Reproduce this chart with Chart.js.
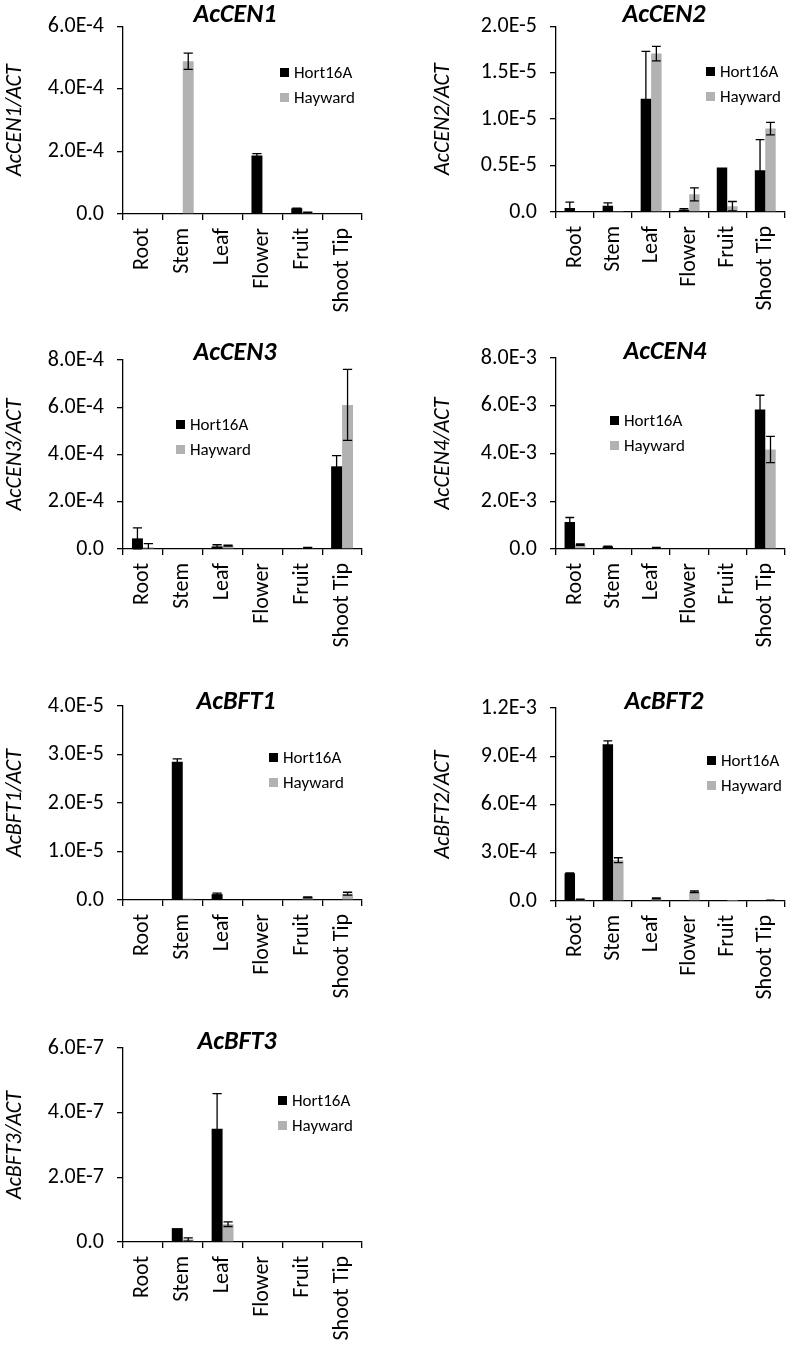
<!DOCTYPE html>
<html>
<head>
<meta charset="utf-8">
<script src="https://cdn.jsdelivr.net/npm/chart.js@4.4.1/dist/chart.umd.min.js"></script>
<style>
    body { margin: 0; background: #fff; }
    #page { position: relative; width: 800px; height: 1346px; background: #fff; color: #000; font-family: Carlito, "Open Sans", sans-serif; }
    canvas { position: absolute; }
    .title { position: absolute; transform: translate(-50%, -50%); font: italic bold 26px Carlito, "Open Sans", sans-serif; white-space: nowrap; }
    .legend { position: absolute; font: 17px Carlito, "Open Sans", sans-serif; }
    .legend div { display: flex; align-items: center; height: 25px; white-space: nowrap; }
    .legend i { display: inline-block; width: 9px; height: 9px; margin-right: 5px; }
</style>
</head>
<body>
<div id="page"></div>
<script>
const categories = ["Root", "Stem", "Leaf", "Flower", "Fruit", "Shoot Tip"];
const seriesNames = ["Hort16A", "Hayward"];

// AcCEN1
const cen1Hort = [0, 0, 0, 1.87e-4, 1.8e-5, 0];
const cen1HortErr = [0, 0, 0, 6e-6, 1e-6, 0];
const cen1Hay = [0, 4.88e-4, 0, 0, 5e-6, 0];
const cen1HayErr = [0, 2.6e-5, 0, 0, 1e-6, 0];
const cen1Ticks = ["0.0", "2.0E-4", "4.0E-4", "6.0E-4"];
const cen1Max = 6e-4;

// AcCEN2
const cen2Hort = [0.42e-6, 0.67e-6, 1.22e-5, 0.25e-6, 4.8e-6, 4.5e-6];
const cen2HortErr = [0.64e-6, 0.32e-6, 0.51e-5, 0.1e-6, 0, 3.3e-6];
const cen2Hay = [0, 0.12e-6, 1.705e-5, 1.9e-6, 0.63e-6, 8.98e-6];
const cen2HayErr = [0, 0, 0.78e-6, 0.7e-6, 0.5e-6, 0.67e-6];
const cen2Ticks = ["0.0", "0.5E-5", "1.0E-5", "1.5E-5", "2.0E-5"];
const cen2Max = 2e-5;

// AcCEN3
const cen3Hort = [0.45e-4, 0.02e-4, 0.11e-4, 0, 0, 3.5e-4];
const cen3HortErr = [0.44e-4, 0, 0.07e-4, 0, 0, 0.45e-4];
const cen3Hay = [0.07e-4, 0, 0.14e-4, 0, 0.05e-4, 6.1e-4];
const cen3HayErr = [0.16e-4, 0, 0.02e-4, 0, 0.02e-4, 1.5e-4];
const cen3Ticks = ["0.0", "2.0E-4", "4.0E-4", "6.0E-4", "8.0E-4"];
const cen3Max = 8e-4;

// AcCEN4
const cen4Hort = [1.13e-3, 0.1e-3, 0, 0, 0, 5.84e-3];
const cen4HortErr = [0.19e-3, 0.02e-3, 0, 0, 0, 0.6e-3];
const cen4Hay = [0.18e-3, 0.03e-3, 0.05e-3, 0, 0, 4.17e-3];
const cen4HayErr = [0.03e-3, 0, 0.02e-3, 0, 0, 0.55e-3];
const cen4Ticks = ["0.0", "2.0E-3", "4.0E-3", "6.0E-3", "8.0E-3"];
const cen4Max = 8e-3;

// AcBFT1
const bft1Hort = [0, 2.85e-5, 1.2e-6, 0, 0, 0];
const bft1HortErr = [0, 0.6e-6, 0.2e-6, 0, 0, 0];
const bft1Hay = [0, 0.3e-6, 0, 0, 0.55e-6, 1.3e-6];
const bft1HayErr = [0, 0, 0, 0, 0.1e-6, 0.3e-6];
const bft1Ticks = ["0.0", "1.0E-5", "2.0E-5", "3.0E-5", "4.0E-5"];
const bft1Max = 4e-5;

// AcBFT2
const bft2Hort = [1.72e-4, 9.74e-4, 0.04e-4, 0.05e-4, 0.02e-4, 0];
const bft2HortErr = [0.03e-4, 0.22e-4, 0, 0, 0, 0];
const bft2Hay = [0.1e-4, 2.54e-4, 0.17e-4, 0.58e-4, 0.02e-4, 0.05e-4];
const bft2HayErr = [0.02e-4, 0.15e-4, 0.03e-4, 0.05e-4, 0, 0.01e-4];
const bft2Ticks = ["0.0", "3.0E-4", "6.0E-4", "9.0E-4", "1.2E-3"];
const bft2Max = 1.2e-3;

// AcBFT3
const bft3Hort = [0, 0.43e-7, 3.5e-7, 0, 0, 0];
const bft3HortErr = [0, 0, 1.09e-7, 0, 0, 0];
const bft3Hay = [0, 0.08e-7, 0.55e-7, 0, 0, 0];
const bft3HayErr = [0, 0.05e-7, 0.07e-7, 0, 0, 0];
const bft3Ticks = ["0.0", "2.0E-7", "4.0E-7", "6.0E-7"];
const bft3Max = 6e-7;

const hortColor = "#000000";
const hayColor = "#b2b2b2";

// layout of each panel (canvas box, plot padding, title and legend spots)
const panels = [
    { gene: "AcCEN1", hort: cen1Hort, hortErr: cen1HortErr, hay: cen1Hay, hayErr: cen1HayErr, ticks: cen1Ticks, max: cen1Max,
      left: 0, top: 0, h: 320, padL: 0, axisW: 123, padR: 38, padT: 22, axisH: 106, tx: 235, ty: 13, lx: 280, ly: 60 },
    { gene: "AcCEN2", hort: cen2Hort, hortErr: cen2HortErr, hay: cen2Hay, hayErr: cen2HayErr, ticks: cen2Ticks, max: cen2Max,
      left: 400, top: 0, h: 320, padL: 28, axisW: 128, padR: 4, padT: 22, axisH: 108, tx: 664, ty: 13, lx: 706, ly: 59 },
    { gene: "AcCEN3", hort: cen3Hort, hortErr: cen3HortErr, hay: cen3Hay, hayErr: cen3HayErr, ticks: cen3Ticks, max: cen3Max,
      left: 0, top: 320, h: 330, padL: 0, axisW: 123, padR: 38, padT: 40, axisH: 101, tx: 235, ty: 351, lx: 176, ly: 412 },
    { gene: "AcCEN4", hort: cen4Hort, hortErr: cen4HortErr, hay: cen4Hay, hayErr: cen4HayErr, ticks: cen4Ticks, max: cen4Max,
      left: 400, top: 320, h: 330, padL: 28, axisW: 128, padR: 4, padT: 38, axisH: 101, tx: 665, ty: 350, lx: 610, ly: 408 },
    { gene: "AcBFT1", hort: bft1Hort, hortErr: bft1HortErr, hay: bft1Hay, hayErr: bft1HayErr, ticks: bft1Ticks, max: bft1Max,
      left: 0, top: 650, h: 350, padL: 0, axisW: 123, padR: 38, padT: 56, axisH: 100, tx: 236, ty: 700, lx: 269, ly: 745 },
    { gene: "AcBFT2", hort: bft2Hort, hortErr: bft2HortErr, hay: bft2Hay, hayErr: bft2HayErr, ticks: bft2Ticks, max: bft2Max,
      left: 400, top: 650, h: 350, padL: 28, axisW: 128, padR: 4, padT: 58, axisH: 99, tx: 664, ty: 700, lx: 707, ly: 748 },
    { gene: "AcBFT3", hort: bft3Hort, hortErr: bft3HortErr, hay: bft3Hay, hayErr: bft3HayErr, ticks: bft3Ticks, max: bft3Max,
      left: 0, top: 1000, h: 346, padL: 0, axisW: 123, padR: 38, padT: 48, axisH: 104, tx: 237, ty: 1040, lx: 278, ly: 1088 }
];

const errorBars = {
    id: "errorBars",
    afterDatasetsDraw(chart) {
        const { ctx } = chart;
        const yScale = chart.scales.y;
        chart.data.datasets.forEach((ds, di) => {
            const meta = chart.getDatasetMeta(di);
            ds.errors.forEach((err, i) => {
                if (!err) {
                    return;
                }
                const bar = meta.data[i];
                const v = ds.data[i];
                const top = yScale.getPixelForValue(v + err);
                const low = v - err;
                const bottom = yScale.getPixelForValue(Math.max(low, 0));
                const half = bar.width * 0.42;
                ctx.save();
                ctx.strokeStyle = "#000";
                ctx.lineWidth = 1.3;
                ctx.beginPath();
                ctx.moveTo(bar.x, top);
                ctx.lineTo(bar.x, bottom);
                ctx.moveTo(bar.x - half, top);
                ctx.lineTo(bar.x + half, top);
                if (low > 0) {
                    ctx.moveTo(bar.x - half, bottom);
                    ctx.lineTo(bar.x + half, bottom);
                }
                ctx.stroke();
                ctx.restore();
            });
        });
    }
};

Chart.defaults.font.family = "Carlito, 'Open Sans', sans-serif";
Chart.defaults.font.size = 22;
Chart.defaults.color = "#000";

const page = document.getElementById("page");

panels.forEach((p) => {
    const canvas = document.createElement("canvas");
    canvas.width = 400;
    canvas.height = p.h;
    canvas.style.left = p.left + "px";
    canvas.style.top = p.top + "px";
    page.appendChild(canvas);

    const title = document.createElement("div");
    title.className = "title";
    title.style.left = p.tx + "px";
    title.style.top = p.ty + "px";
    title.textContent = p.gene;
    page.appendChild(title);

    const legend = document.createElement("div");
    legend.className = "legend";
    legend.style.left = p.lx + "px";
    legend.style.top = p.ly + "px";
    legend.innerHTML =
        `<div><i style="background:${hortColor}"></i>${seriesNames[0]}</div>` +
        `<div><i style="background:${hayColor}"></i>${seriesNames[1]}</div>`;
    page.appendChild(legend);

    new Chart(canvas, {
        type: "bar",
        data: {
            labels: categories,
            datasets: [
                { label: seriesNames[0], data: p.hort, errors: p.hortErr, backgroundColor: hortColor },
                { label: seriesNames[1], data: p.hay, errors: p.hayErr, backgroundColor: hayColor }
            ]
        },
        options: {
            responsive: false,
            animation: false,
            events: [],
            categoryPercentage: 0.55,
            barPercentage: 1.0,
            layout: {
                padding: { left: p.padL, right: p.padR, top: p.padT, bottom: 0 }
            },
            plugins: {
                legend: { display: false },
                tooltip: { enabled: false }
            },
            scales: {
                x: {
                    afterFit: (scale) => { scale.height = p.axisH; },
                    border: { color: "#000", width: 1.3 },
                    grid: {
                        offset: true,
                        drawOnChartArea: false,
                        drawTicks: true,
                        tickLength: 6,
                        color: "#000",
                        lineWidth: 1.3
                    },
                    ticks: {
                        autoSkip: false,
                        minRotation: 90,
                        maxRotation: 90,
                        padding: 8,
                        font: { size: 22 }
                    }
                },
                y: {
                    min: 0,
                    max: p.max,
                    afterFit: (scale) => { scale.width = p.axisW; },
                    border: { color: "#000", width: 1.3 },
                    grid: {
                        drawOnChartArea: false,
                        drawTicks: true,
                        tickLength: 6,
                        color: "#000",
                        lineWidth: 1.3
                    },
                    ticks: {
                        stepSize: p.max / (p.ticks.length - 1),
                        padding: 13,
                        font: { size: 22 },
                        callback: (value, index) => p.ticks[index]
                    },
                    title: {
                        display: true,
                        text: p.gene + "/ACT",
                        font: { size: 22, style: "italic" },
                        padding: { top: 2, bottom: 0 }
                    }
                }
            }
        },
        plugins: [errorBars]
    });
});
</script>
</body>
</html>
